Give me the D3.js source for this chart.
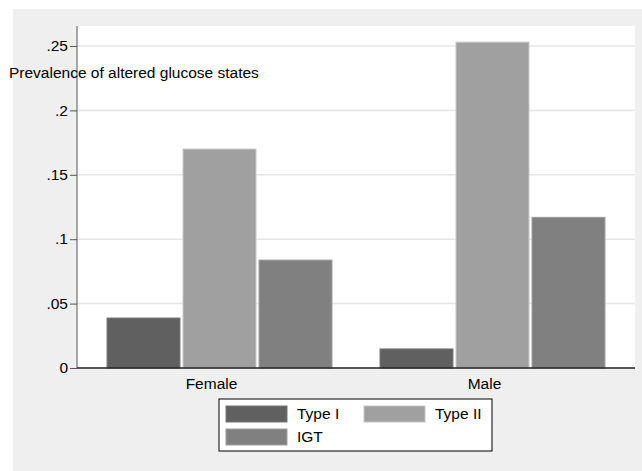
<!DOCTYPE html>
<html>
<head>
<meta charset="utf-8">
<script src="https://cdn.jsdelivr.net/npm/d3@7"></script>
<style>
  body { margin: 0; background: #fff; }
  text { font-family: "Liberation Sans", Arial, sans-serif; font-size: 15.5px; fill: #000; }
</style>
</head>
<body>
<script>
// data
let groups = ["Female", "Male"];
let series = ["Type I", "Type II", "IGT"];
let typeI = [0.0388, 0.0148];
let typeII = [0.170, 0.253];
let igt = [0.0838, 0.117];
let yTicks = [0, 0.05, 0.1, 0.15, 0.2, 0.25];
let yTickLabels = ["0", ".05", ".1", ".15", ".2", ".25"];
let colors = ["#606060", "#a0a0a0", "#808080"];

let width = 642, height = 471;
let plot = {left: 77, right: 635, top: 26, bottom: 368};

let svg = d3.select("body").append("svg")
    .attr("width", width)
    .attr("height", height);

// outer gray background
svg.append("rect")
    .attr("x", 13).attr("y", 9)
    .attr("width", width - 13).attr("height", height - 9)
    .attr("fill", "#efefef");

// plot area
svg.append("rect")
    .attr("x", plot.left).attr("y", plot.top)
    .attr("width", plot.right - plot.left).attr("height", plot.bottom - plot.top)
    .attr("fill", "#fff");

let y = d3.scaleLinear()
    .domain([0, 0.25])
    .range([plot.bottom, 46]);

let x0 = d3.scaleBand()
    .domain(groups)
    .range([plot.left, plot.right])
    .paddingInner(0.176)
    .paddingOuter(0.11);

let x1 = d3.scaleBand()
    .domain(series)
    .range([0, x0.bandwidth()])
    .paddingInner(0.04);

let color = d3.scaleOrdinal().domain(series).range(colors);

// gridlines
svg.append("g")
    .selectAll("line")
    .data(yTicks.slice(1))
    .join("line")
    .attr("x1", plot.left).attr("x2", plot.right)
    .attr("y1", d => y(d)).attr("y2", d => y(d))
    .attr("stroke", "#e6e6e6")
    .attr("stroke-width", 1.5);

// bars
let rows = groups.map((g, i) => ({group: g, values: [typeI[i], typeII[i], igt[i]]}));

svg.append("g")
    .selectAll("g")
    .data(rows)
    .join("g")
    .attr("transform", d => `translate(${x0(d.group)},0)`)
    .selectAll("rect")
    .data(d => d.values.map((v, j) => ({key: series[j], value: v})))
    .join("rect")
    .attr("x", d => x1(d.key))
    .attr("y", d => y(d.value))
    .attr("width", x1.bandwidth())
    .attr("height", d => y(0) - y(d.value))
    .attr("fill", d => color(d.key))
    .attr("stroke", d => d3.color(color(d.key)).brighter(0.6))
    .attr("stroke-width", 1);

// y axis
let yAxis = d3.axisLeft(y)
    .tickValues(yTicks)
    .tickFormat((d, i) => yTickLabels[i])
    .tickSize(7)
    .tickPadding(2);

svg.append("g")
    .attr("transform", `translate(${plot.left},0)`)
    .call(yAxis)
    .call(g => g.select(".domain").attr("d", `M0,${plot.top}V${plot.bottom}`).attr("stroke", "#555"))
    .call(g => g.selectAll(".tick line").attr("stroke", "#555"))
    .call(g => g.selectAll(".tick text")
        .attr("font-size", null)
        .attr("font-family", null)
        .attr("dy", "0.3em"));

// zero baseline
svg.append("line")
    .attr("x1", plot.left).attr("x2", plot.right)
    .attr("y1", y(0)).attr("y2", y(0))
    .attr("stroke", "#222")
    .attr("stroke-width", 1.5);

// group labels
svg.append("g")
    .selectAll("text")
    .data(groups)
    .join("text")
    .attr("x", d => x0(d) + x0.bandwidth() / 2 - 8)
    .attr("y", 389)
    .attr("text-anchor", "middle")
    .text(d => d);

// y title, drawn horizontally as in the original
svg.append("text")
    .attr("x", 9)
    .attr("y", 78)
    .text("Prevalence of altered glucose states");

// legend
let legend = svg.append("g").attr("transform", "translate(219,399)");

legend.append("rect")
    .attr("width", 273).attr("height", 52)
    .attr("fill", "#fff")
    .attr("stroke", "#000")
    .attr("stroke-width", 1);

let item = legend.selectAll(".item")
    .data(series)
    .join("g")
    .attr("class", "item")
    .attr("transform", (d, i) => `translate(${7 + (i % 2) * 138},${7 + Math.floor(i / 2) * 23})`);

item.append("rect")
    .attr("width", 61).attr("height", 16)
    .attr("fill", d => color(d))
    .attr("stroke", d => d3.color(color(d)).brighter(0.6));

item.append("text")
    .attr("x", 71)
    .attr("y", 13)
    .text(d => d);
</script>
</body>
</html>
